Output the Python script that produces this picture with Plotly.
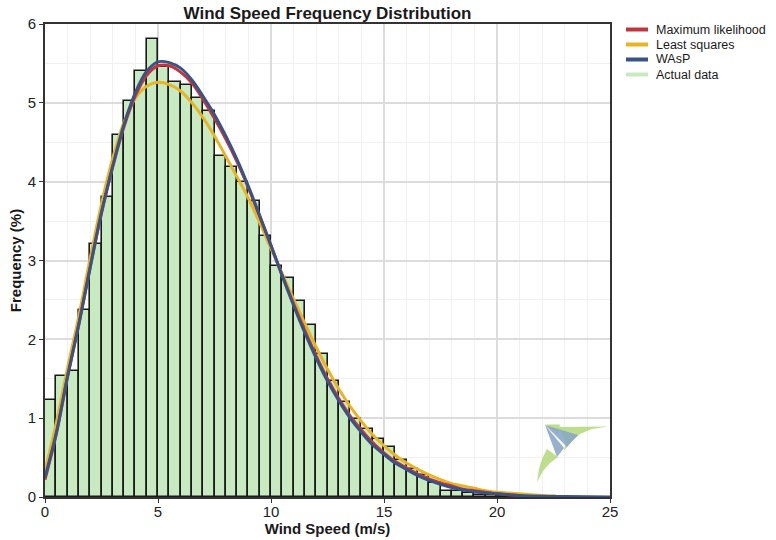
import plotly.graph_objects as go

# Measured wind speed histogram: share of hours (%) per 0.5 m/s bin, starting at 0 m/s
bin_width = 0.5
freq = [1.23, 1.54, 1.60, 2.37, 3.21, 3.81, 4.59, 5.02, 5.41, 5.81,
        5.45, 5.27, 5.22, 5.06, 4.90, 4.33, 4.18, 3.99, 3.75, 3.31,
        2.93, 2.78, 2.48, 2.18, 1.81, 1.47, 1.20, 0.99, 0.86, 0.74,
        0.63, 0.47, 0.36, 0.28, 0.18, 0.08, 0.07, 0.05, 0.03, 0.02,
        0.01, 0.01]
bin_centers = [bin_width * i + bin_width / 2 for i in range(len(freq))]

# Fitted Weibull curves, sampled along the speed axis
ml_x = [0, 0.5, 1, 1.5, 2, 2.5, 3, 3.5, 4, 4.5, 5, 5.5, 6, 6.5, 7, 7.5, 8, 8.5, 9, 9.5,
        10, 10.5, 11, 11.5, 12, 12.5, 13, 13.5, 14, 14.5, 15, 15.5, 16, 16.5, 17, 17.5,
        18, 18.5, 19, 19.5, 20, 20.5, 21]
ml_y = [0.22, 0.80, 1.53, 2.20, 2.92, 3.60, 4.19, 4.70, 5.09, 5.35, 5.47, 5.47, 5.39, 5.25,
        5.04, 4.80, 4.54, 4.25, 3.92, 3.56, 3.19, 2.81, 2.45, 2.11, 1.79, 1.50, 1.25, 1.03,
        0.85, 0.69, 0.56, 0.45, 0.37, 0.29, 0.23, 0.18, 0.14, 0.10, 0.08, 0.06, 0.04, 0.03,
        0.02]

ls_x = [0, 0.5, 1, 1.5, 2, 2.5, 3, 3.5, 4, 4.5, 5, 5.5, 6, 6.5, 7, 7.5, 8, 8.5, 9, 9.5,
        10, 10.5, 11, 11.5, 12, 12.5, 13, 13.5, 14, 14.5, 15, 15.5, 16, 16.5, 17, 17.5,
        18, 18.5, 19, 19.5, 20, 20.5, 21, 21.5, 22, 22.6]
ls_y = [0.33, 0.94, 1.64, 2.30, 3.03, 3.72, 4.30, 4.76, 5.06, 5.21, 5.26, 5.23, 5.15, 5.00,
        4.81, 4.58, 4.32, 4.06, 3.79, 3.48, 3.15, 2.83, 2.51, 2.20, 1.90, 1.62, 1.37, 1.15,
        0.96, 0.79, 0.65, 0.53, 0.43, 0.35, 0.28, 0.22, 0.17, 0.14, 0.11, 0.08, 0.06, 0.05,
        0.04, 0.03, 0.02, 0.015]

wasp_x = [0, 0.5, 1, 1.5, 2, 2.5, 3, 3.5, 4, 4.5, 5, 5.5, 6, 6.5, 7, 7.5, 8, 8.5, 9, 9.5,
          10, 10.5, 11, 11.5, 12, 12.5, 13, 13.5, 14, 14.5, 15, 15.5, 16, 16.5, 17, 17.5,
          18, 18.5, 19, 19.5, 20, 21, 22, 23, 25]
wasp_y = [0.25, 0.81, 1.53, 2.19, 2.91, 3.61, 4.20, 4.73, 5.13, 5.40, 5.52, 5.51, 5.44, 5.29,
          5.08, 4.85, 4.58, 4.28, 3.94, 3.57, 3.19, 2.80, 2.43, 2.08, 1.76, 1.47, 1.22, 1.00,
          0.82, 0.66, 0.54, 0.43, 0.35, 0.27, 0.21, 0.16, 0.12, 0.09, 0.07, 0.05, 0.04, 0.02,
          0.01, 0.005, 0.0]

x_ticks = [0, 5, 10, 15, 20, 25]
y_ticks = [0, 1, 2, 3, 4, 5, 6]

legend_names = ["Maximum likelihood", "Least squares", "WAsP", "Actual data"]

RED = "#c0363f"
YELLOW = "#e7b521"
BLUE = "#3a5386"
GREEN_FILL = "#c8eac1"
FONT = "Liberation Sans, Arial, sans-serif"
legend_colors = [RED, YELLOW, BLUE, GREEN_FILL]

# plot area in page pixels
L, R, T, B = 45, 610, 24, 497
W, H = 776, 540


def paper(xp, yp):
    return (xp - L) / (R - L), (B - yp) / (B - T)


fig = go.Figure()

fig.add_trace(go.Bar(
    x=bin_centers, y=freq, width=bin_width,
    marker=dict(color=GREEN_FILL, line=dict(color="#1a1a1a", width=1.6)),
    name="Actual data", showlegend=False,
))
fig.add_trace(go.Scatter(x=ls_x, y=ls_y, mode="lines", name="Least squares",
                         line=dict(color=YELLOW, width=3, shape="spline"), showlegend=False))
fig.add_trace(go.Scatter(x=ml_x, y=ml_y, mode="lines", name="Maximum likelihood",
                         line=dict(color=RED, width=3, shape="spline"), showlegend=False))
fig.add_trace(go.Scatter(x=wasp_x, y=wasp_y, mode="lines", name="WAsP",
                         line=dict(color=BLUE, width=3, shape="spline"), showlegend=False))

shapes = []
annotations = []

# compact legend: colour swatch + label, 15 px per row
for i, (name, col) in enumerate(zip(legend_names, legend_colors)):
    yp = 29.5 + 15 * i
    x0, y0 = paper(626, yp)
    x1, _ = paper(648, yp)
    shapes.append(dict(type="line", xref="paper", yref="paper", x0=x0, x1=x1, y0=y0, y1=y0,
                       line=dict(color=col, width=4)))
    tx, ty = paper(654, yp)
    annotations.append(dict(text=name, xref="paper", yref="paper", x=tx, y=ty,
                            xanchor="left", yanchor="middle", showarrow=False,
                            font=dict(family=FONT, size=12.5, color="#1a1a1a")))


# small kite logo in the lower-right corner
def path(points):
    pts = [paper(*p) for p in points]
    d = "M {:.4f},{:.4f} ".format(*pts[0])
    for p in pts[1:]:
        d += "L {:.4f},{:.4f} ".format(*p)
    return d + "Z"


LOGO_GREEN = "rgba(178,216,120,0.85)"
LOGO_BLUE = "rgba(140,168,198,0.9)"
logo = [
    ([(545, 424.5), (560, 424.5), (558, 433)], LOGO_GREEN),
    ([(557, 427), (608, 426.5), (592, 429), (580, 434), (571, 442), (564, 451), (566, 441), (561, 433)], LOGO_GREEN),
    ([(545, 425), (578, 435), (567, 447)], LOGO_BLUE),
    ([(545, 425), (564, 448), (557, 457)], LOGO_BLUE),
    ([(547, 449), (558, 457), (550, 463), (543, 471), (537, 482), (539, 469), (542, 459)], LOGO_GREEN),
]
for pts, col in logo:
    shapes.append(dict(type="path", xref="paper", yref="paper", path=path(pts),
                       fillcolor=col, line=dict(width=0), layer="above"))

fig.update_layout(
    width=W, height=H,
    margin=dict(l=L, r=W - R, t=T, b=H - B, autoexpand=False),
    paper_bgcolor="white", plot_bgcolor="white",
    font=dict(family=FONT, size=12, color="#222"),
    title=dict(text="<b>Wind Speed Frequency Distribution</b>", x=(L + R) / 2 / W,
               xanchor="center", y=1 - 13 / H, yanchor="middle",
               font=dict(family=FONT, size=17, color="#1a1a1a")),
    bargap=0,
    showlegend=False,
    shapes=shapes,
    annotations=annotations,
)

fig.update_xaxes(
    range=[0, 25], tickvals=x_ticks, ticks="outside", ticklen=4, tickcolor="#333",
    showline=True, linecolor="#333", linewidth=2, mirror=True,
    showgrid=True, gridcolor="#dcdcdc", gridwidth=1.5,
    minor=dict(dtick=1, showgrid=True, gridcolor="#f0f0f0", gridwidth=1),
    zeroline=False, automargin=False, ticklabelstandoff=-4,
    title=dict(text="<b>Wind Speed (m/s)</b>", font=dict(family=FONT, size=15, color="#1a1a1a"),
               standoff=0),
    tickfont=dict(family=FONT, size=15, color="#222"),
)
fig.update_yaxes(
    range=[0, 6], tickvals=y_ticks, ticks="outside", ticklen=4, tickcolor="#333",
    showline=True, linecolor="#333", linewidth=2, mirror=True,
    showgrid=True, gridcolor="#dcdcdc", gridwidth=1.5,
    minor=dict(dtick=0.5, showgrid=True, gridcolor="#f0f0f0", gridwidth=1),
    zeroline=False, automargin=False,
    title=dict(text="<b>Frequency (%)</b>", font=dict(family=FONT, size=15, color="#1a1a1a"),
               standoff=2),
    tickfont=dict(family=FONT, size=15, color="#222"),
)

fig.write_html("out.html")
